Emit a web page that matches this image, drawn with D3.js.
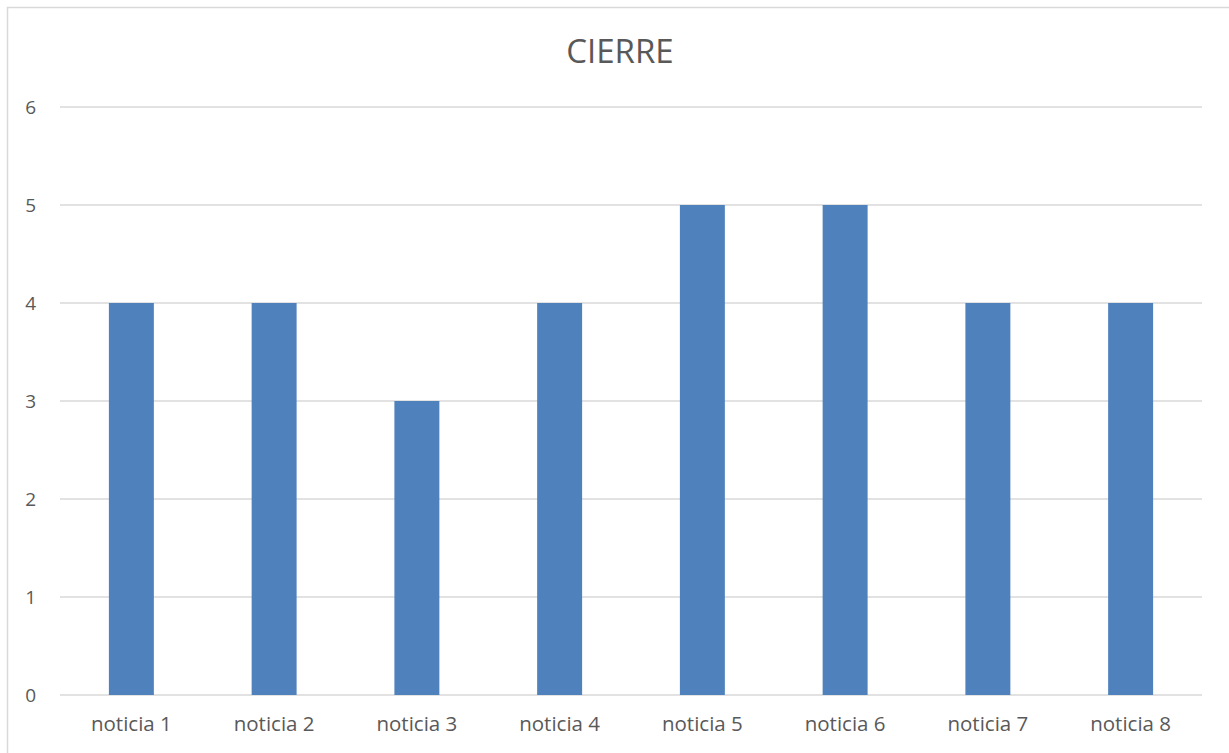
<!DOCTYPE html>
<html><head><meta charset="utf-8">
<script src="https://cdn.jsdelivr.net/npm/d3@7"></script>
<style>html,body{margin:0;padding:0;background:#fff;} svg{display:block;font-family:"Open Sans","Noto Sans",sans-serif;}</style>
</head><body>
<svg id="chart" width="1229" height="753"></svg>
<script>
const categories = ["noticia 1","noticia 2","noticia 3","noticia 4","noticia 5","noticia 6","noticia 7","noticia 8"];
const values = [4,4,3,4,5,5,4,4];
const yTicks = [0,1,2,3,4,5,6];
const title = "CIERRE";

(function(){
const FONT = '"Open Sans","Noto Sans",sans-serif';
const svg = d3.select("#chart");
svg.append("rect").attr("x",7.5).attr("y",7.5).attr("width",1240).attr("height",760)
  .attr("fill","none").attr("stroke","#d9d9d9").attr("stroke-width",1.5);

const pl=60, pr=1202, pt=107, pb=695;
const x = d3.scaleBand().domain(categories).range([pl,pr]).paddingInner(0.685).paddingOuter(0.3425);
const y = d3.scaleLinear().domain([0,6]).range([pb,pt]);

svg.append("g").selectAll("line").data(yTicks).join("line")
  .attr("x1",pl).attr("x2",pr).attr("y1",d=>y(d)).attr("y2",d=>y(d))
  .attr("stroke","#d9d9d9").attr("stroke-width",1.5);

svg.append("g").selectAll("rect").data(values).join("rect")
  .attr("x",(d,i)=>x(categories[i])).attr("width",x.bandwidth())
  .attr("y",d=>y(d)).attr("height",d=>y(0)-y(d)).attr("fill","#4F81BD");

const yAxis = d3.axisLeft(y).tickValues(yTicks).tickFormat(d3.format("d")).tickSize(0).tickPadding(0);
const gy = svg.append("g").attr("transform",`translate(36,0)`).call(yAxis)
  .attr("font-family",FONT).attr("font-size",19);
gy.select(".domain").remove();
gy.selectAll("text").attr("fill","#595959").attr("text-anchor","end").attr("dy","0.35em");

const xAxis = d3.axisBottom(x).tickSize(0).tickPadding(0);
const gx = svg.append("g").attr("transform",`translate(0,${pb+21})`).call(xAxis)
  .attr("font-family",FONT).attr("font-size",20.5);
gx.select(".domain").remove();
gx.selectAll("text").attr("fill","#595959");

svg.append("text").attr("x",620).attr("y",63).attr("text-anchor","middle")
  .attr("font-family",FONT).attr("fill","#595959").attr("font-size",33).text(title);
})();
</script>
</body></html>
